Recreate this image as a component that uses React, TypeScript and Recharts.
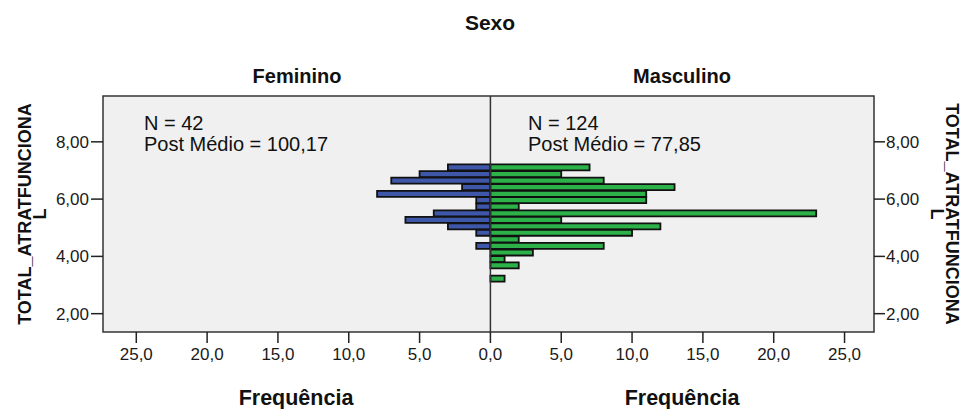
import React from 'react';
import { BarChart, Bar, XAxis, YAxis, CartesianGrid, ReferenceLine, ReferenceArea } from 'recharts';

// Histogram bin midpoints of TOTAL_ATRATFUNCIONAL (top to bottom)
const binMids = [7.1, 6.87, 6.64, 6.41, 6.18, 5.96, 5.73, 5.5, 5.27, 5.04, 4.82, 4.59, 4.36, 4.13, 3.9, 3.68, 3.45, 3.22];
// Frequencies per bin
const feminino = [3, 5, 7, 2, 8, 1, 1, 4, 6, 3, 1, 0, 1, 0, 0, 0, 0, 0];
const masculino = [7, 5, 8, 13, 11, 11, 2, 23, 5, 12, 10, 2, 8, 3, 1, 2, 0, 1];

const xTicks = [-25, -20, -15, -10, -5, 0, 5, 10, 15, 20, 25];
const yTicks = [2, 4, 6, 8];

const groupTitle = 'Sexo';
const panelTitles = ['Feminino', 'Masculino'];
const statsFem = ['N = 42', 'Post Médio = 100,17'];
const statsMasc = ['N = 124', 'Post Médio = 77,85'];
const yTitle = ['TOTAL_ATRATFUNCIONA', 'L'];
const xTitle = 'Frequência';

const X_DOMAIN: [number, number] = [-27.35, 27.08];
const Y_DOMAIN: [number, number] = [1.36, 9.6];

const data = binMids.map((m, i) => ({ mid: m, fem: -feminino[i], masc: masculino[i] }));

const FONT = '"Liberation Sans", Arial, sans-serif';

const fmtX = (v: number) => Math.abs(v).toFixed(1).replace('.', ',');
const fmtY = (v: number) => v.toFixed(2).replace('.', ',');

export default function App() {
  const tickStyle = { fontFamily: FONT, fontSize: 17, fill: '#1a1a1a' };
  return (
    <div style={{ position: 'absolute', left: 0, top: 0, width: 964, height: 409, background: '#fff' }}>
      <BarChart
        width={964}
        height={409}
        data={data}
        layout="vertical"
        stackOffset="sign"
        barCategoryGap={0}
        margin={{ top: 96, right: 40, bottom: 37, left: 53 }}
      >
        <CartesianGrid yAxisId="left" horizontal={false} vertical={false} fill="#f0f0f0" />
        <XAxis
          type="number"
          domain={X_DOMAIN}
          ticks={xTicks}
          allowDataOverflow
          tickFormatter={fmtX}
          tick={tickStyle}
          tickSize={11}
          tickMargin={5}
          axisLine={false}
          tickLine={{ stroke: '#222', strokeWidth: 1.5 }}
          height={40}
          interval={0}
        />
        <YAxis
          yAxisId="left"
          type="number"
          dataKey="mid"
          domain={Y_DOMAIN}
          reversed
          ticks={yTicks}
          allowDataOverflow
          tickFormatter={fmtY}
          tick={tickStyle}
          tickSize={12}
          tickMargin={2}
          axisLine={false}
          tickLine={{ stroke: '#222', strokeWidth: 1.5 }}
          width={50}
          interval={0}
        />
        <YAxis
          yAxisId="right"
          orientation="right"
          type="number"
          dataKey="mid"
          domain={Y_DOMAIN}
          reversed
          ticks={yTicks}
          allowDataOverflow
          tickFormatter={fmtY}
          tick={tickStyle}
          tickSize={11}
          tickMargin={1}
          axisLine={false}
          tickLine={{ stroke: '#222', strokeWidth: 1.5 }}
          width={50}
          interval={0}
        />
        <Bar yAxisId="left" dataKey="fem" stackId="s" fill="#3e57a9" stroke="#111" strokeWidth={1.8} isAnimationActive={false} />
        <Bar yAxisId="left" dataKey="masc" stackId="s" fill="#2db24a" stroke="#111" strokeWidth={1.8} isAnimationActive={false} />
        <ReferenceLine yAxisId="left" x={0} stroke="#333" strokeWidth={1.5} />
        <ReferenceArea
          yAxisId="left"
          x1={X_DOMAIN[0]}
          x2={X_DOMAIN[1]}
          y1={Y_DOMAIN[0]}
          y2={Y_DOMAIN[1]}
          fill="none"
          fillOpacity={0}
          stroke="#333"
          strokeWidth={1.5}
        />
      </BarChart>
      <svg width={964} height={409} style={{ position: 'absolute', left: 0, top: 0, pointerEvents: 'none' }}>
        <text x={490} y={30} textAnchor="middle" fontFamily={FONT} fontWeight="bold" fontSize={21} fill="#111">{groupTitle}</text>
        <text x={297} y={83} textAnchor="middle" fontFamily={FONT} fontWeight="bold" fontSize={20} fill="#111">{panelTitles[0]}</text>
        <text x={682} y={83} textAnchor="middle" fontFamily={FONT} fontWeight="bold" fontSize={20} fill="#111">{panelTitles[1]}</text>
        <text x={144} y={130} fontFamily={FONT} fontSize={20} fill="#111">{statsFem[0]}</text>
        <text x={144} y={151} fontFamily={FONT} fontSize={20} fill="#111">{statsFem[1]}</text>
        <text x={528} y={130} fontFamily={FONT} fontSize={20} fill="#111">{statsMasc[0]}</text>
        <text x={528} y={151} fontFamily={FONT} fontSize={20} fill="#111">{statsMasc[1]}</text>
        <text x={296} y={405} textAnchor="middle" fontFamily={FONT} fontWeight="bold" fontSize={21.5} fill="#111">{xTitle}</text>
        <text x={682} y={405} textAnchor="middle" fontFamily={FONT} fontWeight="bold" fontSize={21.5} fill="#111">{xTitle}</text>
        <g transform="translate(31,214) rotate(-90)">
          <text x={0} y={0} textAnchor="middle" fontFamily={FONT} fontWeight="bold" fontSize={18} fill="#111">{yTitle[0]}</text>
          <text x={0} y={15} textAnchor="middle" fontFamily={FONT} fontWeight="bold" fontSize={18} fill="#111">{yTitle[1]}</text>
        </g>
        <g transform="translate(946,214) rotate(90)">
          <text x={0} y={0} textAnchor="middle" fontFamily={FONT} fontWeight="bold" fontSize={18} fill="#111">{yTitle[0]}</text>
          <text x={0} y={15} textAnchor="middle" fontFamily={FONT} fontWeight="bold" fontSize={18} fill="#111">{yTitle[1]}</text>
        </g>
      </svg>
    </div>
  );
}
